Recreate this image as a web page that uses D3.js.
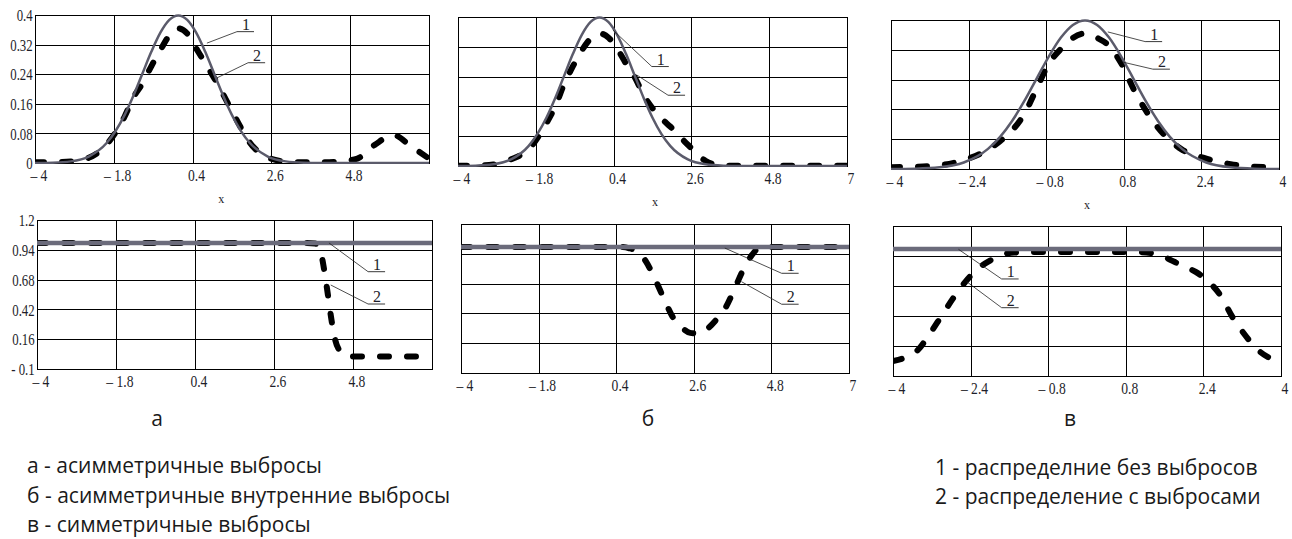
<!DOCTYPE html>
<html>
<head>
<meta charset="utf-8">
<script src="https://cdn.jsdelivr.net/npm/d3@7"></script>
<style>
  body { margin: 0; background: #fff; }
  .grid line { stroke: #000; stroke-width: 1; shape-rendering: crispEdges; }
  .frame { fill: none; stroke: #000; stroke-width: 1; shape-rendering: crispEdges; }
  .tick text, .num { font-family: "Liberation Serif", "Times New Roman", serif; font-size: 16px; fill: #1e1e2a; }
  .caption { font-family: "Open Sans", "Noto Sans", sans-serif; font-size: 21px; fill: #1a1a1a; }
</style>
</head>
<body>
<svg id="chart" width="1292" height="539"></svg>
<script>
// ---- data ----
// top row: densities, bottom row: ratio curves
var xTopA = [-4,-3.5,-3,-2.5,-2,-1.5,-1.25,-1,-0.75,-0.5,-0.25,0,0.25,0.5,0.75,1,1.25,1.5,1.75,2,2.5,3,3.5,4,4.5,5,5.5,6,6.5,7];
var topA1 = [0.0001,0.0009,0.0044,0.0175,0.054,0.1295,0.1826,0.242,0.3011,0.3521,0.3867,0.3989,0.3867,0.3521,0.3011,0.242,0.1826,0.1295,0.0863,0.054,0.0175,0.0044,0.0009,0.0001,0,0,0,0,0,0];
var topA2 = [0.002,0.002,0.004,0.014,0.05,0.125,0.178,0.215,0.262,0.305,0.345,0.364,0.35,0.31,0.27,0.23,0.186,0.14,0.095,0.055,0.015,0.004,0.002,0.002,0.004,0.012,0.05,0.076,0.045,0.012];

var xTopB = xTopA;
var topB1 = topA1;
var topB2 = [0.001,0.001,0.004,0.018,0.045,0.115,0.16,0.22,0.268,0.31,0.342,0.356,0.345,0.315,0.275,0.238,0.19,0.155,0.128,0.106,0.057,0.014,0.001,0.001,0.001,0.001,0.001,0.001,0.001,0.001];

var xTopC = [-4,-3.5,-3,-2.5,-2,-1.75,-1.5,-1.25,-1,-0.75,-0.5,-0.25,0,0.25,0.5,0.75,1,1.25,1.5,1.75,2,2.5,3,3.5,4];
var topC1 = [0.0001,0.0009,0.0044,0.0175,0.054,0.0863,0.1295,0.1826,0.242,0.3011,0.3521,0.3867,0.3989,0.3867,0.3521,0.3011,0.242,0.1826,0.1295,0.0863,0.054,0.0175,0.0044,0.0009,0.0001];
var topC2 = [0.005,0.006,0.01,0.024,0.052,0.075,0.104,0.148,0.215,0.282,0.322,0.352,0.364,0.352,0.33,0.283,0.215,0.158,0.112,0.077,0.052,0.028,0.013,0.006,0.005];

var xBotA = [-4,-3,-2,-1,0,1,2,3,3.5,3.75,3.9,4,4.1,4.2,4.3,4.45,4.6,4.8,5,6,7];
var botA1 = [1,1,1,1,1,1,1,1,1,1,1,1,1,1,1,1,1,1,1,1,1];
var botA2 = [1,1,1,1,1,1,1,1,1,0.995,0.92,0.76,0.55,0.33,0.16,0.05,0.015,0.008,0.008,0.008,0.008];

var xBotB = [-4,-3,-2,-1,0,0.5,0.75,1,1.25,1.5,1.75,2,2.25,2.5,2.75,3,3.25,3.5,3.75,4,4.25,4.5,5,6,7];
var botB1 = [1,1,1,1,1,1,1,1,1,1,1,1,1,1,1,1,1,1,1,1,1,1,1,1,1];
var botB2 = [1,1,1,1,1,1,0.99,0.96,0.87,0.72,0.55,0.39,0.3,0.25,0.245,0.29,0.37,0.47,0.63,0.8,0.93,1,1,1,1];

var xBotC = [-4,-3.75,-3.5,-3.25,-3,-2.75,-2.5,-2.25,-2,-1.75,-1.5,-1,0,1,1.5,1.75,2,2.25,2.5,2.75,3,3.25,3.5,3.75,4];
var botC1 = [1,1,1,1,1,1,1,1,1,1,1,1,1,1,1,1,1,1,1,1,1,1,1,1,1];
var botC2 = [0.03,0.06,0.12,0.26,0.42,0.58,0.72,0.83,0.9,0.95,0.97,0.975,0.975,0.975,0.95,0.9,0.85,0.8,0.72,0.6,0.41,0.26,0.135,0.06,0.03];

var xTicks11 = [-4,-1.8,0.4,2.6,4.8,7];
var xTicks8 = [-4,-2.4,-0.8,0.8,2.4,4];
var yTicksTop = [0,0.08,0.16,0.24,0.32,0.4];
var yTicksBot = [-0.1,0.16,0.42,0.68,0.94,1.2];

var panelLetters = ["а", "б", "в"];
var notesLeft = ["а - асимметричные выбросы", "б - асимметричные внутренние выбросы", "в - симметричные выбросы"];
var notesRight = ["1 - распределние без выбросов", "2 - распределение с выбросами"];

var svg = d3.select("#chart");
svg.append("rect").attr("width", 1292).attr("height", 539).attr("fill", "#fff");

function fmt(d) {
  if (d < 0) return "\u2013 " + Math.abs(d);
  return String(d);
}

var panels = [
  {id: "ta", box: [35, 429, 15, 163], xd: [-4, 7], yd: [0, 0.4], xt: xTicks11, yt: yTicksTop, yLab: true,
   xs: xTopA, s1: topA1, s2: topA2, w1: 2.5, c1: "#5b5b6b", xLabel: 1.2, lastTick: false,
   notes: [[0.8, 0.324, 1.64, 0.355], [1.08, 0.23, 1.95, 0.271]]},
  {id: "tb", box: [458, 847, 17, 166], xd: [-4, 7], yd: [0, 0.4], xt: xTicks11, yt: yTicksTop, yLab: false,
   xs: xTopB, s1: topB1, s2: topB2, w1: 2.5, c1: "#5b5b6b", xLabel: 1.57, lastTick: true,
   notes: [[0.38, 0.365, 1.48, 0.267], [1.06, 0.244, 1.94, 0.19]]},
  {id: "tc", box: [891, 1279, 20, 169], xd: [-4, 4], yd: [0, 0.4], xt: xTicks8, yt: yTicksTop, yLab: false,
   xs: xTopC, s1: topC1, s2: topC2, w1: 2.5, c1: "#5b5b6b", xLabel: 0.04, lastTick: true,
   notes: [[0.47, 0.368, 1.24, 0.342], [0.78, 0.287, 1.4, 0.268]]},
  {id: "ba", box: [37, 432, 220, 369], xd: [-4, 7], yd: [-0.1, 1.2], xt: xTicks11, yt: yTicksBot, yLab: true,
   xs: xBotA, s1: botA1, s2: botA2, w1: 4.5, c1: "#6b6b7b", lastTick: false,
   notes: [[4.13, 1.0, 5.22, 0.749], [4.18, 0.633, 5.22, 0.467]]},
  {id: "bb", box: [461, 849, 224, 373], xd: [-4, 7], yd: [-0.1, 1.2], xt: xTicks11, yt: yTicksBot, yLab: false,
   xs: xBotB, s1: botB1, s2: botB2, w1: 4.5, c1: "#6b6b7b", lastTick: true,
   notes: [[3.48, 0.99, 5.09, 0.77], [3.95, 0.697, 5.09, 0.5]]},
  {id: "bc", box: [893, 1281, 226, 376], xd: [-4, 4], yd: [-0.1, 1.2], xt: xTicks8, yt: yTicksBot, yLab: false,
   xs: xBotC, s1: botC1, s2: botC2, w1: 4.5, c1: "#6b6b7b", lastTick: true,
   notes: [[-2.65, 0.998, -1.76, 0.741], [-2.48, 0.717, -1.76, 0.492]]}
];

panels.forEach(function(p) {
  var left = p.box[0], right = p.box[1], top = p.box[2], bottom = p.box[3];
  var x = d3.scaleLinear().domain(p.xd).range([left, right]);
  var y = d3.scaleLinear().domain(p.yd).range([bottom, top]);
  var g = svg.append("g").attr("class", "panel");

  var grid = g.append("g").attr("class", "grid");
  grid.selectAll(".v").data(p.xt.slice(1, -1)).enter().append("line")
    .attr("x1", function(d) { return Math.round(x(d)) + 0.5; })
    .attr("x2", function(d) { return Math.round(x(d)) + 0.5; })
    .attr("y1", top).attr("y2", bottom);
  grid.selectAll(".h").data(p.yt.slice(1, -1)).enter().append("line")
    .attr("y1", function(d) { return Math.round(y(d)) + 0.5; })
    .attr("y2", function(d) { return Math.round(y(d)) + 0.5; })
    .attr("x1", left).attr("x2", right);
  g.append("rect").attr("class", "frame")
    .attr("x", left + 0.5).attr("y", top + 0.5)
    .attr("width", right - left).attr("height", bottom - top);

  g.append("clipPath").attr("id", "clip-" + p.id)
    .append("rect").attr("x", left).attr("y", top - 1)
    .attr("width", right - left + 1).attr("height", bottom - top + 2);

  var pts2 = p.xs.map(function(v, i) { return [v, p.s2[i]]; });
  var pts1 = p.xs.map(function(v, i) { return [v, p.s1[i]]; });
  var line = d3.line()
    .x(function(d) { return x(d[0]); })
    .y(function(d) { return y(d[1]); })
    .curve(d3.curveMonotoneX);

  var curves = g.append("g").attr("clip-path", "url(#clip-" + p.id + ")");
  curves.append("path").datum(pts2)
    .attr("d", line).attr("fill", "none")
    .attr("stroke", "#000").attr("stroke-width", 6)
    .attr("stroke-linecap", "round")
    .attr("stroke-dasharray", "9,18");
  curves.append("path").datum(pts1)
    .attr("d", line).attr("fill", "none")
    .attr("stroke", p.c1).attr("stroke-width", p.w1);

  // x tick labels
  var xt = p.lastTick ? p.xt : p.xt.slice(0, -1);
  var xa = g.append("g").attr("transform", "translate(0," + bottom + ")")
    .call(d3.axisBottom(x).tickValues(xt).tickSize(0).tickFormat(fmt));
  xa.select(".domain").remove();
  xa.selectAll("text").attr("y", 18).attr("dy", null).attr("x", 4)
    .attr("transform", "scale(0.85,1)");
  xa.attr("font-family", null).attr("font-size", null);

  if (p.yLab) {
    var ya = g.append("g").attr("transform", "translate(" + left + ",0)")
      .call(d3.axisLeft(y).tickValues(p.yt).tickSize(0).tickPadding(3)
        .tickFormat(function(d) { return d < 0 ? "- " + Math.abs(d) : String(d); }));
    ya.select(".domain").remove();
    ya.selectAll("text").attr("dy", "0.36em").attr("transform", "scale(0.8,1)");
    ya.attr("font-family", null).attr("font-size", null);
  }

  if (p.xLabel !== undefined) {
    g.append("text").attr("class", "num")
      .attr("x", x(p.xLabel)).attr("y", bottom + 40)
      .attr("text-anchor", "middle").style("font-size", "12px")
      .text("x");
  }

  // leader lines to "1" and "2"
  p.notes.forEach(function(n, i) {
    var lx = x(n[2]), ly = y(n[3]);
    g.append("line").attr("x1", x(n[0])).attr("y1", y(n[1]))
      .attr("x2", lx).attr("y2", ly)
      .attr("stroke", "#222").attr("stroke-width", 0.8);
    g.append("line").attr("x1", lx).attr("y1", ly).attr("x2", lx + 17).attr("y2", ly)
      .attr("stroke", "#222").attr("stroke-width", 0.9);
    g.append("text").attr("class", "num")
      .attr("x", lx + 9).attr("y", ly - 2)
      .attr("text-anchor", "middle")
      .attr("fill", "#3a3020")
      .text(String(i + 1));
  });
});

// panel letters
var letterX = [157, 648, 1070];
svg.selectAll(".letter").data(panelLetters).enter().append("text")
  .attr("class", "caption")
  .attr("x", function(d, i) { return letterX[i]; })
  .attr("y", 426)
  .attr("text-anchor", "middle")
  .text(function(d) { return d; });

svg.selectAll(".noteL").data(notesLeft).enter().append("text")
  .attr("class", "caption")
  .attr("x", 27)
  .attr("y", function(d, i) { return 473 + i * 29.5; })
  .text(function(d) { return d; });

svg.selectAll(".noteR").data(notesRight).enter().append("text")
  .attr("class", "caption")
  .attr("x", 935)
  .attr("y", function(d, i) { return 475 + i * 28.5; })
  .text(function(d) { return d; });
</script>
</body>
</html>
